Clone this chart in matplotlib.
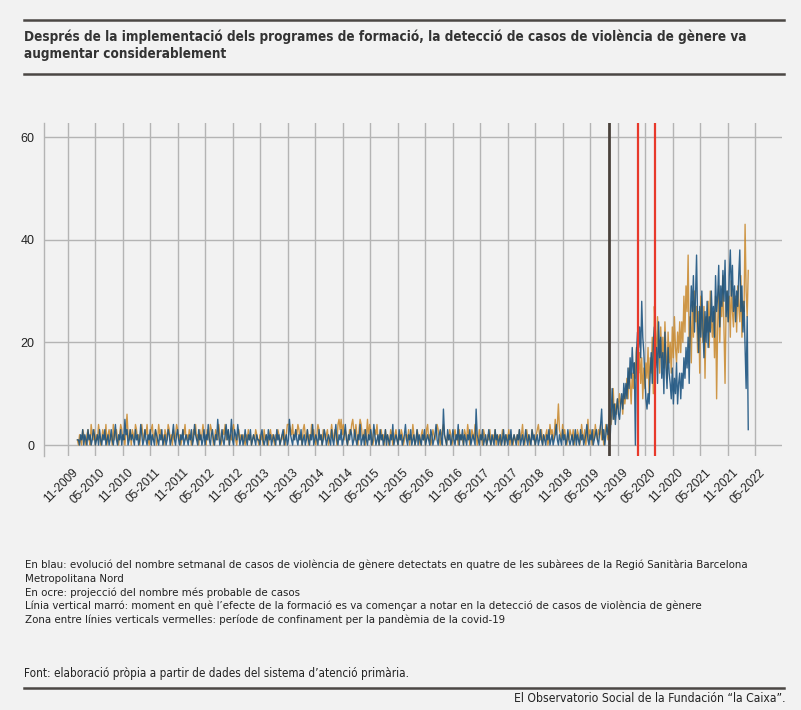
import matplotlib
matplotlib.use("Agg")
import matplotlib.pyplot as plt
import matplotlib.dates as mdates
import matplotlib.font_manager as fm
from matplotlib.lines import Line2D
from matplotlib.transforms import ScaledTranslation
import pandas as pd

# ---------------- data (weekly counts) ----------------
start_date = "2010-01-04"

blue_2010 = [1,1,0,2,1,3,0,2,1,0,3,1,2,0,1,3,2,0,1,2,0,3,1,0,2,1,3,0,1,2,0,1,3,1,0,2,4,1,0,2,1,3,0,2,1,5,2,3,0,1,3,1]
blue_2011 = [2,1,0,3,1,2,0,1,4,2,0,1,3,1,0,2,1,3,0,2,1,0,3,2,1,0,2,1,3,0,1,2,0,1,3,2,0,1,2,4,1,0,2,3,1,0,2,1,3,0,1,2]
blue_2012 = [1,0,2,1,3,0,1,4,2,1,0,3,1,2,0,1,3,0,2,1,4,1,0,2,3,1,0,2,1,5,2,0,1,3,1,0,2,4,1,3,0,2,5,1,0,3,2,1,4,2,0,1]
blue_2013 = [2,0,1,3,1,0,2,1,3,0,1,2,1,0,2,1,1,0,2,3,1,0,1,2,0,3,1,2,0,1,2,1,0,3,1,2,0,1,2,3,0,1,2,0,1,5,2,1,0,2,1,3]
blue_2014 = [1,0,2,1,3,0,1,2,0,1,3,1,0,2,1,4,0,1,2,1,0,3,1,2,0,1,3,2,0,1,2,1,0,3,1,0,2,4,1,0,2,1,3,0,1,2,4,1,0,2,1,3]
blue_2015 = [2,0,1,3,1,0,2,1,4,0,1,2,0,3,1,0,2,1,3,0,1,4,2,0,1,2,0,3,1,2,0,1,3,0,2,1,0,2,1,4,0,1,2,1,0,3,1,2,0,1,2,4]
blue_2016 = [1,0,2,1,3,0,1,2,0,1,3,0,2,1,0,2,1,3,0,1,2,1,0,3,2,0,1,2,4,1,0,2,3,1,0,7,2,1,0,3,1,2,0,1,3,1,0,2,1,4,0,2]
blue_2017 = [1,3,0,2,1,0,2,1,3,0,1,2,1,0,7,2,1,0,2,1,3,0,1,2,0,1,3,1,0,2,1,0,3,1,2,0,1,2,0,1,3,0,2,1,0,2,1,3,0,1,2,1]
blue_2018 = [0,2,1,3,0,1,2,0,1,3,1,0,2,1,0,3,1,2,0,1,2,0,1,3,1,0,2,1,0,2,1,3,0,1,2,0,1,2,4,1,0,2,1,0,3,1,2,0,1,3,1,0]
blue_2019 = [1,2,0,1,3,0,2,1,0,3,1,2,0,1,2,4,1,0,2,1,3,0,1,2,3,1,0,2,4,7,1,3,0,2,4,2,3,1,6,11,5,8,4,7,9,6,5,8,10,7,12,9]
blue_2020 = [12,9,15,11,17,13,19,14,16,0,18,22,19,23,17,28,21,18,13,9,7,10,8,14,18,12,20,
             23,15,19,12,24,17,21,13,18,10,22,15,11,19,14,12,9,15,8,13,10,16,8,12,14]
blue_2021 = [9,14,11,17,13,19,15,21,12,24,31,26,33,22,29,37,24,18,27,21,30,23,17,26,20,28,19,25,22,30,
             24,27,21,33,26,29,35,23,31,27,34,28,36,25,30,24,33,38,29,35,26,31]
blue_2022 = [24,30,27,33,38,26,31,22,28,19,11,25,3]

ochre_2010 = [1,0,2,1,0,3,2,1,0,2,3,1,0,4,2,1,3,0,2,1,4,2,0,1,3,2,1,4,0,2,3,1,2,0,4,1,2,3,1,0,2,4,3,1,2,0,3,6,2,1,3,0]
ochre_2011 = [3,2,1,4,3,1,2,0,3,4,2,1,3,2,4,1,0,2,3,4,1,2,3,0,1,4,2,3,1,2,0,3,2,1,4,3,1,2,0,3,1,2,4,3,1,2,0,1,3,2,4,1]
ochre_2012 = [2,1,3,2,0,1,3,2,4,1,2,0,3,1,2,4,2,1,0,3,2,1,4,3,2,0,1,3,2,1,4,2,0,1,3,2,4,1,2,3,0,2,1,3,4,2,1,0,2,3,1,2]
ochre_2013 = [1,2,1,0,2,1,3,1,2,0,1,2,1,3,2,1,0,2,1,2,0,3,1,2,1,0,2,3,1,2,1,0,2,1,3,2,0,1,2,1,3,0,2,4,4,4,3,2,4,1,2,3]
ochre_2014 = [2,4,3,1,2,0,3,4,2,1,3,0,2,1,4,2,3,1,0,2,4,3,1,2,0,3,2,1,2,3,0,1,2,4,2,1,3,2,0,4,5,3,5,2,4,1,3,2,0,1,3,2]
ochre_2015 = [4,5,3,1,4,2,0,3,5,4,2,1,3,0,2,5,1,4,3,2,0,1,3,2,4,1,0,2,3,1,2,0,3,1,2,0,1,3,2,0,1,2,3,1,0,2,1,3,2,0,1,2]
ochre_2016 = [2,1,3,0,2,1,4,2,0,1,3,2,1,0,2,3,1,2,0,3,4,1,2,0,1,3,2,1,2,4,3,1,0,2,3,4,2,1,0,2,1,3,2,0,1,2,3,1,2,0,3,1]
ochre_2017 = [2,1,0,3,2,1,4,2,0,1,3,2,1,4,2,0,1,3,1,2,0,3,2,1,0,2,1,3,0,1,2,1,3,0,2,1,2,0,1,3,2,0,1,2,1,3,0,2,1,0,2,1]
ochre_2018 = [1,2,0,3,1,2,4,1,0,2,3,1,2,0,1,3,2,1,0,2,3,4,2,1,3,0,2,1,2,3,0,1,4,2,3,1,2,5,2,4,8,3,2,1,4,2,3,1,0,2,1,3]
ochre_2019 = [2,1,3,0,2,1,3,2,0,1,4,2,1,3,0,2,5,1,3,2,0,3,1,4,2,1,3,2,4,1,3,0,2,4,3,1,5,7,4,6,11,5,8,6,9,7,10,8,9,6,10,8]
ochre_2020 = [10,13,9,15,12,8,14,11,16,13,19,15,14,18,12,17,9,15,11,16,13,19,10,17,14,21,10,27,
              22,16,25,19,14,23,17,21,15,24,18,13,22,16,20,14,23,17,25,19,16,22,18,24]
ochre_2021 = [18,24,20,29,22,31,26,37,19,25,16,28,21,30,24,27,18,26,14,29,23,20,27,13,25,22,28,19,30,24,
              21,26,17,29,9,23,31,20,28,25,33,22,12,27,30,24,29,21,32,26,23,28]
ochre_2022 = [29,22,31,27,24,33,21,28,26,43,30,25,34]

effect_date = "2019-09-01"
lockdown_start = "2020-03-15"
lockdown_end = "2020-07-01"

x_tick_first = "2009-11-01"
x_tick_last = "2022-05-01"
y_ticks = [0, 20, 40, 60]

title = ("Després de la implementació dels programes de formació, la detecció de casos de violència de gènere va\n"
         "augmentar considerablement")
notes = [
    "En blau: evolució del nombre setmanal de casos de violència de gènere detectats en quatre de les subàrees de la Regió Sanitària Barcelona",
    "Metropolitana Nord",
    "En ocre: projecció del nombre més probable de casos",
    "Línia vertical marró: moment en què l’efecte de la formació es va començar a notar en la detecció de casos de violència de gènere",
    "Zona entre línies verticals vermelles: període de confinament per la pandèmia de la covid-19",
]
source = "Font: elaboració pròpia a partir de dades del sistema d’atenció primària."
credit = "El Observatorio Social de la Fundación “la Caixa”."

blue = (blue_2010 + blue_2011 + blue_2012 + blue_2013 + blue_2014 + blue_2015 + blue_2016 +
        blue_2017 + blue_2018 + blue_2019 + blue_2020 + blue_2021 + blue_2022)
ochre = (ochre_2010 + ochre_2011 + ochre_2012 + ochre_2013 + ochre_2014 + ochre_2015 + ochre_2016 +
         ochre_2017 + ochre_2018 + ochre_2019 + ochre_2020 + ochre_2021 + ochre_2022)
dates_b = pd.date_range(start_date, periods=len(blue), freq="7D")
dates_o = pd.date_range(start_date, periods=len(ochre), freq="7D")

# ---------------- fonts ----------------
avail = {f.name for f in fm.fontManager.ttflist}
if "Liberation Sans Narrow" in avail:
    COND = "Liberation Sans Narrow"
    cond_stretch = "normal"
else:
    COND = "DejaVu Sans"
    cond_stretch = "condensed"
REG = "Liberation Sans" if "Liberation Sans" in avail else "DejaVu Sans"

BG = "#f2f2f2"
GRID = "#b4b4b4"

W, H = 801, 710
fig = plt.figure(figsize=(W / 100, H / 100), dpi=100, facecolor=BG)

def fx(px):
    return px / W

def fy(py):
    return 1 - py / H

ax = fig.add_axes([fx(44), fy(456), fx(782) - fx(44), fy(123) - fy(456)])
ax.set_facecolor(BG)

ax.plot(dates_o, ochre, color="#c8872a", lw=1.0, alpha=0.85, zorder=3)
ax.plot(dates_b, blue, color="#17507e", lw=1.0, alpha=0.88, zorder=4)

ax.axvline(pd.Timestamp(effect_date), color="#4a423c", lw=2.0, zorder=5)
ax.axvline(pd.Timestamp(lockdown_start), color="#e8392b", lw=1.6, zorder=5)
ax.axvline(pd.Timestamp(lockdown_end), color="#e8392b", lw=1.6, zorder=5)

ax.set_xlim(pd.Timestamp("2009-05-27"), pd.Timestamp("2022-10-24"))
ax.set_ylim(-2.14, 62.73)

ax.set_xticks(pd.date_range(x_tick_first, x_tick_last, freq="6MS"))
ax.xaxis.set_major_formatter(mdates.DateFormatter("%m-%Y"))
ax.set_yticks(y_ticks)

ax.grid(True, color=GRID, lw=1.0, zorder=0)
ax.set_axisbelow(True)
for s in ["top", "right", "bottom"]:
    ax.spines[s].set_visible(False)
ax.spines["left"].set_color(GRID)
ax.spines["left"].set_linewidth(1.0)

ax.tick_params(axis="both", length=0, colors="#222222")
ax.tick_params(axis="y", pad=7, labelsize=9)
ax.tick_params(axis="x", pad=7.5, labelsize=8.6)
for lab in ax.get_yticklabels():
    lab.set_fontfamily(REG)
offset = ScaledTranslation(4 / 100, 0, fig.dpi_scale_trans)
for lab in ax.get_xticklabels():
    lab.set_fontfamily(REG)
    lab.set_rotation(45)
    lab.set_ha("right")
    lab.set_va("top")
    lab.set_rotation_mode("anchor")
    lab.set_transform(lab.get_transform() + offset)

# ---------------- header / footer ----------------
RULE = "#4b4744"
fig.add_artist(Line2D([fx(24), fx(784)], [fy(19.5), fy(19.5)], color=RULE, lw=1.8))
fig.add_artist(Line2D([fx(24), fx(784)], [fy(74), fy(74)], color=RULE, lw=1.8))
fig.text(fx(24), fy(45.5), title, family=COND, fontstretch=cond_stretch, fontweight="bold",
         fontsize=9.75, color="#333333", va="center", ha="left", linespacing=1.25)

note_y = [565, 579, 592.5, 606, 620]
for t, y in zip(notes, note_y):
    fig.text(fx(25), fy(y), t, family=COND, fontstretch=cond_stretch, fontsize=8.2,
             color="#222222", va="center", ha="left")
fig.text(fx(24), fy(673), source, family=COND, fontstretch=cond_stretch, fontsize=8.4,
         color="#222222", va="center", ha="left")
fig.add_artist(Line2D([fx(24), fx(784)], [fy(687.5), fy(687.5)], color=RULE, lw=1.8))
fig.text(fx(785), fy(698), credit, family=COND, fontstretch=cond_stretch, fontsize=8.7,
         color="#222222", va="center", ha="right")

fig.savefig("out.png", dpi=100, facecolor=BG)
